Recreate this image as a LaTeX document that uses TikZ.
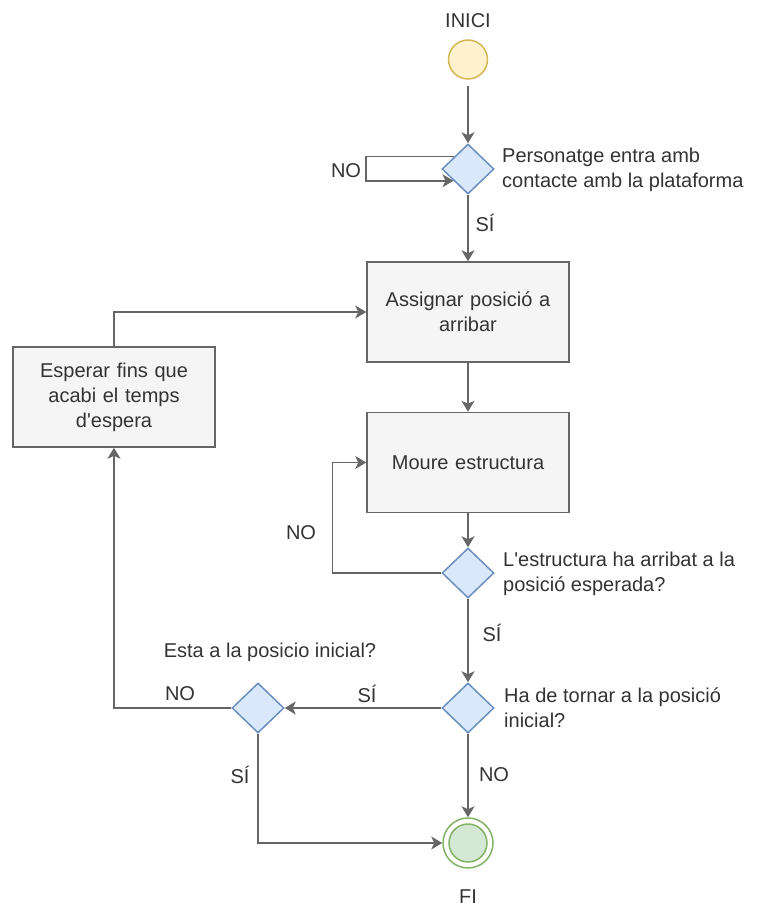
\documentclass[tikz,border=0pt]{standalone}
\usepackage{fontspec}
\setmainfont{Liberation Sans}
\usetikzlibrary{arrows.meta,shapes.geometric}

\definecolor{lineclr}{HTML}{666666}
\definecolor{txtclr}{HTML}{333333}
\definecolor{boxfill}{HTML}{F5F5F5}
\definecolor{decfill}{HTML}{DAE8FC}
\definecolor{decdraw}{HTML}{6C8EBF}
\definecolor{startfill}{HTML}{FFF2CC}
\definecolor{startdraw}{HTML}{D6B656}
\definecolor{endfill}{HTML}{D5E8D4}
\definecolor{enddraw}{HTML}{82B366}

\begin{document}
\begin{tikzpicture}[
  x=1pt, y=-1pt,
  txt/.style={font=\fontsize{20}{25}\selectfont, text=txtclr, inner sep=0pt},
  process/.style={txt, rectangle, draw=lineclr, fill=boxfill, line width=1.5pt,
    minimum width=202pt, minimum height=100pt, align=center, text width=190pt},
  decision/.style={diamond, draw=decdraw, fill=decfill, line width=1.5pt,
    minimum width=52pt, minimum height=50pt, inner sep=0pt},
  startstate/.style={circle, draw=startdraw, fill=startfill, line width=1.5pt,
    minimum size=39pt, inner sep=0pt},
  endouter/.style={circle, draw=enddraw, fill=white, line width=1.5pt,
    minimum size=50pt, inner sep=0pt},
  endinner/.style={circle, draw=enddraw, fill=endfill, line width=1.5pt,
    minimum size=38pt, inner sep=0pt},
  lbl/.style={txt},
  note/.style={txt, anchor=west, align=left},
  flow/.style={draw=lineclr, line width=1.5pt,
    -{Stealth[length=11pt, width=13pt, inset=3pt]}}
]
  \useasboundingbox (0,0) rectangle (756,908);

  % === Start ===
  \node[lbl] (inici) at (468,21) {INICI};
  \node[startstate] (start) at (468,59.5) {};

  % === Decisions ===
  \node[decision] (d1) at (468,169) {};
  \node[decision] (d2) at (468,573) {};
  \node[decision] (d3) at (468,708) {};
  \node[decision] (d4) at (258,708) {};

  % === Processes ===
  \node[process] (box1) at (468,312) {Assignar posició a\\arribar};
  \node[process] (box2) at (468,462.5) {Moure estructura};
  \node[process] (wait) at (114,397)
    {Esperar fins que\\acabi el temps\\d\textquotesingle espera};

  % === End ===
  \node[endouter] (fi) at (468,843) {};
  \node[endinner] (fiin) at (fi.center) {};
  \node[lbl] (filbl) at (468,897) {FI};

  % Question texts
  \node[note] (q1) at (502,170) {Personatge entra amb\\contacte amb la plataforma};
  \node[note] (q2) at (503,574)
    {L\textquotesingle estructura ha arribat a la\\posició esperada?};
  \node[note] (q3) at (504,708) {Ha de tornar a la posició\\inicial?};
  \node[lbl] (q4) at (270,652) {Esta a la posicio inicial?};

  % Edges
  \draw[flow, shorten <=6pt] (start) -- (d1);
  \draw[flow] (d1.138) -- ++(-88,0) |- (d1.219);
  \draw[flow] (d1) -- (box1);
  \draw[flow] (box1) -- (box2);
  \draw[flow] (box2) -- (d2);
  \draw[flow] (d2.west) -- ++(-109,0) |- (box2.west);
  \draw[flow] (d2) -- (d3);
  \draw[flow] (d3) -- (d4);
  \draw[flow] (d3) -- (fi);
  \draw[flow] (d4.west) -| (wait.south);
  \draw[flow] (d4.south) |- (fi.west);
  \draw[flow] (wait.north) |- (box1.west);

  % Edge labels
  \node[lbl] (no1) at (346,171) {NO};
  \node[lbl] (si1) at (485,223) {SÍ};
  \node[lbl] (no2) at (301,533) {NO};
  \node[lbl] (si2) at (492,633) {SÍ};
  \node[lbl] (si3) at (367,694) {SÍ};
  \node[lbl] (no4) at (180,694) {NO};
  \node[lbl] (si4) at (240,775) {SÍ};
  \node[lbl] (no3) at (494,775) {NO};
\end{tikzpicture}
\end{document}
